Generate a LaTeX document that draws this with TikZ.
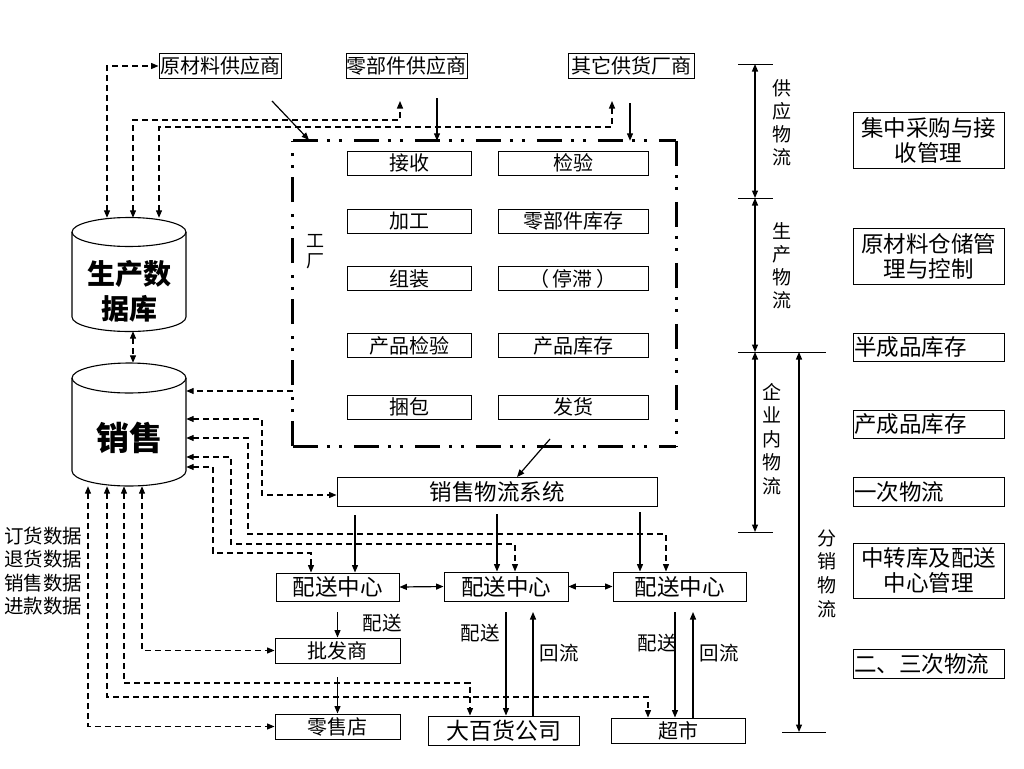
\documentclass[tikz,border=0pt]{standalone}
\usepackage{fontspec}
\setmainfont{Noto Sans CJK SC}
\usetikzlibrary{arrows.meta}
\newcommand\myfs[2]{\fontsize{#1}{#2}\selectfont}
\tikzset{
  >={Triangle[length=7.5pt,width=6pt]},
  box/.style={draw, line width=0.9pt, inner sep=0pt, font=\myfs{20}{22}},
  bigbox/.style={box, font=\myfs{22.5}{24}},
  rbox/.style={draw, line width=0.9pt, inner xsep=1pt, inner ysep=0pt, minimum width=151, text width=149, font=\myfs{22.5}{25}},
  ghost/.style={inner sep=0pt},
  conn/.style={line width=1.2pt},
  sa/.style={conn, ->},
  ss/.style={conn, <->},
  da/.style={conn, dash pattern=on 6pt off 4pt, ->},
  dd/.style={conn, dash pattern=on 6pt off 4pt, <->},
  cyl/.style={line width=1.1pt},
  facline/.style={line width=2.8pt, dash pattern=on 25pt off 9pt on 3pt off 9pt on 3pt off 12pt},
  vlab/.style={align=center, inner sep=0pt, font=\myfs{19}{23}},
  lab/.style={inner sep=0pt, font=\myfs{19.5}{22}},
  tick/.style={line width=0.8pt}
}
\begin{document}
\begin{tikzpicture}[x=1pt,y=-1pt]
\useasboundingbox (0,0) rectangle (1024,768);

% suppliers
\node[box, minimum width=122, minimum height=25] (raw) at (220,66) {原材料供应商};
\node[box, minimum width=121, minimum height=25] (parts) at (406.5,65.5) {零部件供应商};
\node[box, minimum width=126, minimum height=25] (other) at (631,65.5) {其它供货厂商};

% factory
\node[ghost, minimum width=383, minimum height=305] (fac) at (484.5,293.5) {};
\draw[facline] (fac.north west) -- (fac.north east);
\draw[facline] (fac.north east) -- (fac.south east);
\draw[facline] (fac.south west) -- (fac.south east);
\draw[facline] (fac.south west) -- (fac.north west);
\node[vlab, font=\myfs{18}{20}] (facl) at (315,252) {工\\厂};

\tikzset{lb/.style={box, minimum width=124, minimum height=24}, rb/.style={box, minimum width=150, minimum height=24}}
\node[lb] (b1) at (409,163) {接收};
\node[rb] (b2) at (573,163) {检验};
\node[lb] (b3) at (409,221) {加工};
\node[rb] (b4) at (573,221) {零部件库存};
\node[lb] (b5) at (409,278.5) {组装};
\node[rb] (b6) at (573,278.5) {（\,停滞\,）};
\node[lb] (b7) at (409,345.5) {产品检验};
\node[rb] (b8) at (573,345.5) {产品库存};
\node[lb] (b9) at (409,407) {捆包};
\node[rb] (b10) at (573,407) {发货};

% databases
\node[ghost, minimum width=114, minimum height=113] (db) at (129,274.5) {};
\draw[cyl] (72,232) -- (72,317) arc[start angle=180, end angle=0, x radius=57, y radius=14.5] -- (186,232);
\draw[cyl] (129,232) ellipse[x radius=57, y radius=14.5];
\node[align=center, inner sep=0pt, font=\myfs{28}{35}\bfseries] at (129,291) {生产数\\据库};

\node[ghost, minimum width=114, minimum height=123] (sales) at (129,424.5) {};
\draw[cyl] (72,378) -- (72,471) arc[start angle=180, end angle=0, x radius=57, y radius=15] -- (186,378);
\draw[cyl] (129,378) ellipse[x radius=57, y radius=15];
\node[inner sep=0pt, font=\myfs{33}{36}\bfseries] at (129,438) {销售};

% sales logistics system and distribution
\node[bigbox, minimum width=320, minimum height=29] (sls) at (497,491.5) {销售物流系统};
\node[bigbox, minimum width=123, minimum height=28] (dc1) at (337.5,587) {配送中心};
\node[bigbox, minimum width=124, minimum height=29] (dc2) at (506,586.5) {配送中心};
\node[bigbox, minimum width=133, minimum height=29] (dc3) at (679.5,586.5) {配送中心};
\node[box, minimum width=125, minimum height=25] (ws) at (337.5,650.5) {批发商};
\node[box, minimum width=125, minimum height=25] (ret) at (337.5,726.5) {零售店};
\node[box, minimum width=151, minimum height=29, font=\myfs{23}{25}] (dept) at (503.5,730.5) {大百货公司};
\node[box, minimum width=134, minimum height=25] (sup) at (678,730.5) {超市};

% supplier connectors
\coordinate (pu) at (400,101);
\coordinate (ou) at (612,101);
\draw[dd] (db.north -| 107,0) |- (raw.west);
\draw[dd] (db.north -| 133,0) |- (400,120) -- (pu);
\draw[dd] (db.north -| 159,0) |- (612,127) -- (ou);
\coordinate (rs) at (272,101);
\coordinate (ps) at (437,98);
\coordinate (os) at (630,103);
\draw[sa] (rs) -- (309,140);
\draw[sa] (ps) -- (fac.north -| ps);
\draw[sa] (os) -- (fac.north -| os);

% database links
\draw[dd] (db.south -| 133,0) -- (sales.north -| 133,0);
\draw[da] (fac.west |- 0,391) -- (sales.east |- 0,391);
\draw[dd] (sales.east |- 0,419) -| (262,495) -- (sls.west |- 0,495);
\draw[dd] (sales.east |- 0,438) -| (248,534) -| (dc3.north -| 666,0);
\draw[dd] (sales.east |- 0,457) -| (231,544) -| (dc2.north -| 515,0);
\draw[dd] (sales.east |- 0,467) -| (213,553) -| (dc1.north -| 311,0);

\draw[dd] (sales.south -| 142,0) |- (ws.west);
\draw[dd] (sales.south -| 124,0) |- (470,683) -- (dept.north -| 470,0);
\draw[dd] (sales.south -| 107,0) |- (648,697) -- (sup.north -| 648,0);
\draw[dd] (sales.south -| 88,0) |- (ret.west);

% factory to sls
\coordinate (fo) at (550,439);
\draw[sa] (fo) -- (517,477);
\coordinate (s1) at (355,515);
\coordinate (s2) at (497,514);
\coordinate (s3) at (640,512);
\draw[sa] (s1) -- (dc1.north -| s1);
\draw[sa] (s2) -- (dc2.north -| s2);
\draw[sa] (s3) -- (dc3.north -| s3);
\draw[ss] (dc1.east) -- (dc2.west);
\draw[ss] (dc2.east) -- (dc3.west);

% downstream
\coordinate (d1) at (337.5,612);
\coordinate (w1) at (337.5,677);
\coordinate (d2) at (506,612);
\coordinate (r2) at (533,612);
\coordinate (d3) at (675,612);
\coordinate (r3) at (693,612);
\draw[sa] (d1) -- (ws.north);
\draw[sa] (w1) -- (ret.north);
\draw[sa] (d2) -- (dept.north -| d2);
\draw[sa] (dept.north -| r2) -- (r2);
\draw[sa] (d3) -- (sup.north -| d3);
\draw[sa] (sup.north -| r3) -- (r3);
\node[lab] at (382,623) {配送};
\node[lab] at (480,633) {配送};
\node[lab] at (559,653) {回流};
\node[lab] at (657,643) {配送};
\node[lab] at (719,653) {回流};

% left labels
\node[anchor=north west, align=left, inner sep=0pt, font=\myfs{19.5}{23.3}] (data) at (4,527) {订货数据\\退货数据\\销售数据\\进款数据};

% right scale
\draw[tick] (738,64) -- (773,64);
\draw[tick] (738,198) -- (773,198);
\draw[tick] (738,352) -- (826,352);
\draw[tick] (738,532) -- (773,532);
\draw[tick] (782,732) -- (826,732);
\coordinate (t1) at (755,64);
\coordinate (t2) at (755,198);
\coordinate (t3) at (755,352);
\coordinate (t4) at (755,532);
\coordinate (u1) at (799,352);
\coordinate (u2) at (799,732);
\draw[ss] (t1) -- (t2);
\draw[ss] (t2) -- (t3);
\draw[ss] (t3) -- (t4);
\draw[ss] (u1) -- (u2);
\node[vlab] at (782,123) {供\\应\\物\\流};
\node[vlab] at (782,266) {生\\产\\物\\流};
\node[vlab, font=\myfs{19}{23.5}] at (772,439) {企\\业\\内\\物\\流};
\node[vlab, font=\myfs{19}{23.7}] at (827,573.5) {分\\销\\物\\流};

% right boxes
\node[rbox, minimum height=56, align=center] (m1) at (928.5,140) {集中采购与接\\收管理};
\node[rbox, minimum height=56, align=center] (m2) at (928.5,256) {原材料仓储管\\理与控制};
\node[rbox, minimum height=28, align=left] (m3) at (928.5,347) {半成品库存};
\node[rbox, minimum height=28, align=left] (m4) at (928.5,424) {产成品库存};
\node[rbox, minimum height=29, align=left] (m5) at (928.5,491.5) {一次物流};
\node[rbox, minimum height=55, align=center] (m6) at (928.5,570.5) {中转库及配送\\中心管理};
\node[rbox, minimum height=29, align=left] (m7) at (928.5,663.5) {二、三次物流};
\end{tikzpicture}
\end{document}
